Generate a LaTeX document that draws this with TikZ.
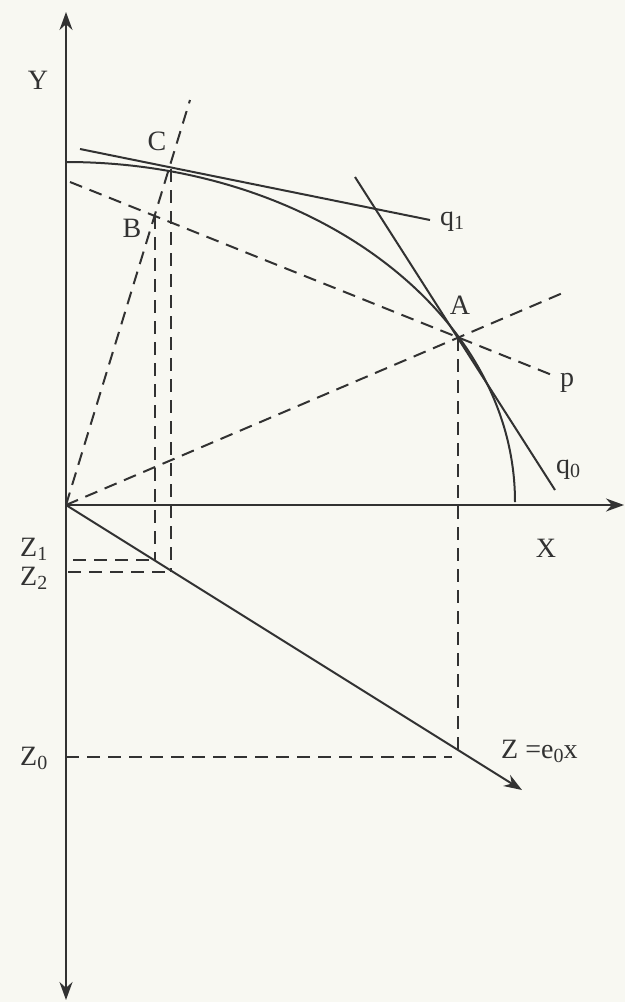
\documentclass[tikz,border=0pt]{standalone}
\usepackage{fontspec}
\setmainfont{Liberation Serif}
\usetikzlibrary{arrows.meta}
\definecolor{ink}{RGB}{50,50,50}
\definecolor{paper}{RGB}{248,248,242}
\newcommand\lsub[1]{\raisebox{-0.3ex}{\fontsize{20}{21}\selectfont #1}}
\begin{document}
\begin{tikzpicture}[x=1pt,y=-1pt,
  ln/.style={line width=2pt, draw=ink},
  dsh/.style={ln, dash pattern=on 13pt off 8pt},
  lab/.style={font=\fontsize{28}{30}\selectfont, text=ink, inner sep=0pt},
  tip/.style={-{Stealth[length=18pt,width=13pt]}}]
\fill[paper] (0,0) rectangle (625,1002);
\useasboundingbox (0,0) rectangle (625,1002);
% key points
\coordinate (O) at (66,505);
\coordinate (Ytop) at (66,12);
\coordinate (Ybot) at (66,1000);
\coordinate (Xend) at (624,505);
\coordinate (A) at (458,338);
\coordinate (B) at (155,216);
\coordinate (C) at (171,169);
\coordinate (Zend) at (522,790);
\coordinate (Z1p) at (155,560);
\coordinate (Z2p) at (171,572);
\coordinate (Z0p) at (458,757);
% axes
\draw[ln,{Stealth[length=18pt,width=13pt]}-{Stealth[length=18pt,width=13pt]}] (Ybot) -- (Ytop);
\draw[ln,tip] (O) -- (Xend);
\draw[ln,tip] (O) -- (Zend);
% frontier
\draw[ln] (66,162) arc[start angle=-90, end angle=0, x radius=449, y radius=340];
% tangents
\coordinate (q1s) at (80,149); \coordinate (q1e) at (430,220);
\coordinate (q0s) at (355,177); \coordinate (q0e) at (555,490);
\draw[ln] (q1s) -- (q1e);
\draw[ln] (q0s) -- (q0e);
% dashed lines
\coordinate (ps) at (70,182); \coordinate (pe) at (557,377);
\coordinate (ra) at (565,292); \coordinate (rc) at (190,100);
\draw[dsh] (ps) -- (pe);
\draw[dsh] (O) -- (ra);
\draw[dsh] (O) -- (rc);
\draw[dsh] (B) -- (Z1p);
\draw[dsh] (C) -- (Z2p);
\draw[dsh] (A) -- (Z0p);
\coordinate (Z1a) at (73,560);
\coordinate (Z2a) at (68,572);
\coordinate (Z0a) at (66,757);
\draw[dsh] (Z1a) -- (Z1p);
\draw[dsh] (Z2a) -- (Z2p);
\draw[dsh] (Z0a) -- (452,757);
% labels
\node[lab] (lY) at (38,80) {Y};
\node[lab] (lX) at (546,548) {X};
\node[lab] (lC) at (157,141) {C};
\node[lab] (lB) at (132,228) {B};
\node[lab] (lA) at (460,305) {A};
\node[lab,anchor=west] (lq1) at (440,222) {q\lsub{1}};
\node[lab,anchor=west] (lp) at (560,383) {p};
\node[lab,anchor=west] (lq0) at (556,470) {q\lsub{0}};
\node[lab,anchor=west] (lZ1) at (20,549) {Z\lsub{1}};
\node[lab,anchor=west] (lZ2) at (20,578) {Z\lsub{2}};
\node[lab,anchor=west] (lZ0) at (20,758) {Z\lsub{0}};
\node[lab,anchor=west] (lZ) at (501,751) {Z =e\lsub{0}x};
\end{tikzpicture}
\end{document}
